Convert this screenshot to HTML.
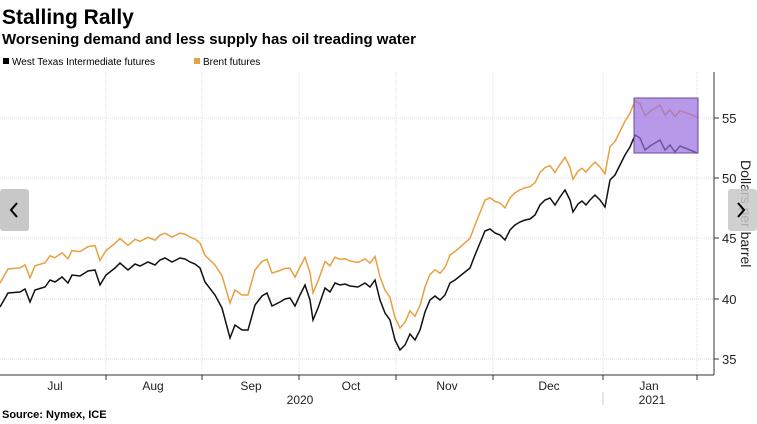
<!DOCTYPE html><html><head><meta charset="utf-8"><style>
body{margin:0;width:757px;height:424px;background:#fff;overflow:hidden;font-family:"Liberation Sans",sans-serif}
svg{position:absolute;left:0;top:0}
</style></head><body>
<svg width="757" height="424" font-family="Liberation Sans, sans-serif">
<text x="2" y="24" font-size="21" font-weight="bold" fill="#000">Stalling Rally</text>
<text x="2" y="44" font-size="15" font-weight="bold" fill="#000">Worsening demand and less supply has oil treading water</text>
<rect x="3" y="58" width="6" height="6" fill="#000"/><text x="12" y="65" font-size="10">West Texas Intermediate futures</text>
<rect x="194" y="58" width="6" height="6" fill="#e8a040"/><text x="203" y="65" font-size="10">Brent futures</text>
<g stroke="#ddd" stroke-dasharray="1,1" stroke-width="1">
<line x1="0" x2="714" y1="118" y2="118"/><line x1="0" x2="714" y1="178" y2="178"/><line x1="0" x2="714" y1="238" y2="238"/><line x1="0" x2="714" y1="299" y2="299"/><line x1="0" x2="714" y1="359" y2="359"/>
<line x1="106" x2="106" y1="72" y2="375"/><line x1="202" x2="202" y1="72" y2="375"/><line x1="299" x2="299" y1="72" y2="375"/><line x1="396" x2="396" y1="72" y2="375"/><line x1="493" x2="493" y1="72" y2="375"/><line x1="603" x2="603" y1="72" y2="375"/><line x1="697" x2="697" y1="72" y2="375"/>
</g>
<line x1="0" x2="714" y1="375" y2="375" stroke="#333"/>
<line x1="714" x2="714" y1="72" y2="375" stroke="#333"/>
<g stroke="#333"><line x1="714" x2="719" y1="118" y2="118"/><line x1="714" x2="719" y1="178" y2="178"/><line x1="714" x2="719" y1="238" y2="238"/><line x1="714" x2="719" y1="299" y2="299"/><line x1="714" x2="719" y1="359" y2="359"/>
<line x1="106" x2="106" y1="375" y2="380"/><line x1="202" x2="202" y1="375" y2="380"/><line x1="299" x2="299" y1="375" y2="380"/><line x1="396" x2="396" y1="375" y2="380"/><line x1="493" x2="493" y1="375" y2="380"/><line x1="603" x2="603" y1="375" y2="380"/><line x1="697" x2="697" y1="375" y2="380"/></g>
<g font-size="13" fill="#222"><text x="722" y="123">55</text><text x="722" y="183">50</text><text x="722" y="243">45</text><text x="722" y="304">40</text><text x="722" y="364">35</text></g>
<text font-size="14" fill="#222" transform="translate(741,160) rotate(90)">Dollars per barrel</text>
<g font-size="12" fill="#222" text-anchor="middle"><text x="55" y="390">Jul</text><text x="153" y="390">Aug</text><text x="251" y="390">Sep</text><text x="351" y="390">Oct</text><text x="447" y="390">Nov</text><text x="549" y="390">Dec</text><text x="649" y="390">Jan</text><text x="300" y="404">2020</text><text x="652" y="404">2021</text></g>
<line x1="603" x2="603" y1="392" y2="405" stroke="#ccc"/>
<text x="2" y="418" font-size="11" font-weight="bold">Source: Nymex, ICE</text>
<polyline id="b" fill="none" stroke="#e8a040" stroke-width="1.5"/>
<polyline id="w" fill="none" stroke="#111" stroke-width="1.5"/>
<rect x="634" y="98" width="64" height="55" fill="#9a6ee0" fill-opacity="0.7" stroke="#6a4aa0"/>
<rect x="0" y="189" width="29" height="42" rx="3" fill="#c8c8c8"/>
<path d="M17 203 L11 210 L17 217" fill="none" stroke="#000" stroke-width="2"/>
<rect x="728" y="189" width="29" height="42" rx="3" fill="#c8c8c8" fill-opacity="0.85"/>
<path d="M738 203 L744 210 L738 217" fill="none" stroke="#000" stroke-width="2"/>
</svg>
<script>
var w=[[0,307],[8,293],[20,292],[25,289],[30,302],[35,290],[45,287],[50,280],[55,282],[62,277],[68,283],[72,275],[80,276],[88,271],[95,270],[100,285],[106,275],[115,268],[120,263],[128,270],[135,264],[140,266],[148,262],[155,265],[160,260],[165,258],[172,262],[180,258],[185,259],[190,262],[195,264],[200,268],[205,282],[215,295],[222,308],[230,338],[235,325],[242,330],[248,330],[255,305],[262,296],[267,293],[272,306],[280,302],[285,299],[290,298],[295,306],[300,295],[305,285],[310,300],[313,320],[318,308],[325,288],[330,292],[335,283],[340,285],[345,284],[350,286],[358,287],[365,283],[370,287],[375,280],[380,300],[385,313],[390,320],[395,340],[400,350],[405,345],[410,334],[415,340],[420,330],[425,312],[430,300],[435,296],[440,300],[445,295],[450,283],[455,280],[460,276],[465,272],[470,268],[475,255],[480,243],[485,231],[490,229],[495,233],[500,235],[505,240],[510,230],[515,225],[520,222],[525,220],[530,219],[535,215],[540,205],[545,200],[550,198],[555,205],[560,197],[565,190],[570,200],[573,212],[578,204],[582,201],[586,205],[590,200],[595,195],[600,200],[605,207],[610,180],[615,175],[620,165],[625,155],[630,147],[635,135],[640,138],[645,150],[650,146],[655,143],[660,140],[665,150],[670,145],[675,152],[680,146],[685,148],[690,150],[697,153]];
var ko=[[0,24],[200,25],[230,35],[260,35],[300,28],[400,22],[450,28],[500,32],[600,33],[697,36]];
function off(x){for(var i=1;i<ko.length;i++){if(x<=ko[i][0]){var a=ko[i-1],b=ko[i];return a[1]+(b[1]-a[1])*(x-a[0])/(b[0]-a[0]);}}return 36;}
document.getElementById('w').setAttribute('points',w.map(p=>p[0]+','+p[1]).join(' '));
document.getElementById('b').setAttribute('points',w.map(p=>p[0]+','+(p[1]-off(p[0])).toFixed(1)).join(' '));
</script>
</body></html>
